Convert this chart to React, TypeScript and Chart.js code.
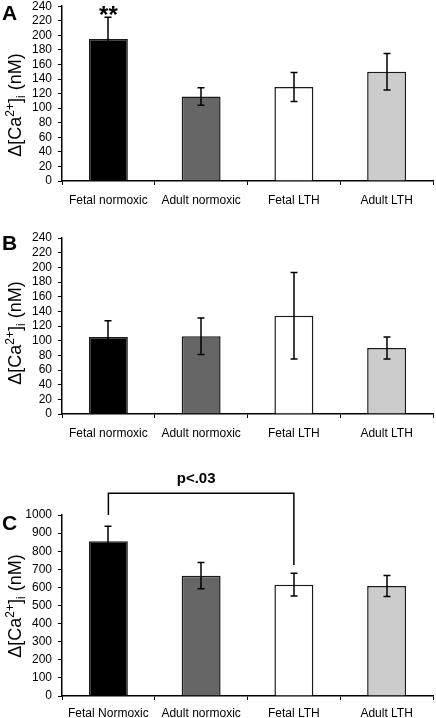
import React, { useEffect, useRef } from 'react';
import { Chart, registerables } from 'chart.js';

Chart.register(...registerables);

// ---------- data ----------
const categoriesAB = ['Fetal normoxic', 'Adult normoxic', 'Fetal LTH', 'Adult LTH'];
const categoriesC = ['Fetal Normoxic', 'Adult normoxic', 'Fetal LTH', 'Adult LTH'];

const meanA = [195, 116, 129, 150];
const semA = [30, 12, 20, 25];

const meanB = [105, 106, 134, 90];
const semB = [22, 25, 59, 15];

const meanC = [855, 665, 615, 608];
const semC = [83, 73, 63, 58];

const yMaxAB = 240;
const yStepAB = 20;
const yMaxC = 1000;
const yStepC = 100;

const barColors = ['#000000', '#666666', '#ffffff', '#cccccc'];

const starsA = { index: 0, text: '**' };
const bracketC = { from: 0, to: 2, top: 1120, leftEnd: 1000, rightEnd: 724, label: 'p<.03' };

const FONT = '"Liberation Sans", Arial, Helvetica, sans-serif';

// ---------- plugin ----------
const decorPlugin = {
  id: 'panelDecor',
  afterDatasetsDraw(chart: any, _args: any, opts: any) {
    const ctx = chart.ctx as CanvasRenderingContext2D;
    const xs = chart.scales.x;
    const ys = chart.scales.y;
    const meta = chart.getDatasetMeta(0);
    const means: number[] = chart.data.datasets[0].data;
    ctx.save();
    // error bars
    ctx.strokeStyle = '#000';
    ctx.lineWidth = 1.5;
    (opts.errors as number[]).forEach((e, i) => {
      const bar = meta.data[i];
      const v = means[i];
      const px = Math.round(bar.x);
      const top = ys.getPixelForValue(v + e);
      const bot = ys.getPixelForValue(v - e);
      ctx.beginPath();
      ctx.moveTo(px, top);
      ctx.lineTo(px, bot);
      ctx.moveTo(px - 3.5, top);
      ctx.lineTo(px + 3.5, top);
      ctx.moveTo(px - 3.5, bot);
      ctx.lineTo(px + 3.5, bot);
      ctx.stroke();
    });
    // stars
    if (opts.stars) {
      const i = opts.stars.index;
      const px = meta.data[i].x;
      const top = ys.getPixelForValue(means[i] + opts.errors[i]);
      ctx.fillStyle = '#000';
      ctx.font = `bold 24px ${FONT}`;
      ctx.textAlign = 'center';
      ctx.textBaseline = 'alphabetic';
      ctx.fillText(opts.stars.text, px, top + 6);
    }
    // bracket
    if (opts.bracket) {
      const b = opts.bracket;
      const x1 = xs.getPixelForValue(b.from);
      const x2 = xs.getPixelForValue(b.to);
      const yt = ys.getPixelForValue(b.top);
      const y1 = ys.getPixelForValue(b.leftEnd);
      const y2 = ys.getPixelForValue(b.rightEnd);
      ctx.strokeStyle = '#000';
      ctx.lineWidth = 1.5;
      ctx.beginPath();
      ctx.moveTo(x1, y1);
      ctx.lineTo(x1, yt);
      ctx.lineTo(x2, yt);
      ctx.lineTo(x2, y2);
      ctx.stroke();
      ctx.fillStyle = '#000';
      ctx.font = `bold 15px ${FONT}`;
      ctx.textAlign = 'center';
      ctx.textBaseline = 'alphabetic';
      ctx.fillText(b.label, (x1 + x2) / 2 - 5, yt - 10);
    }
    // panel letter
    ctx.fillStyle = '#000';
    ctx.font = `bold 21px ${FONT}`;
    ctx.textAlign = 'left';
    ctx.textBaseline = 'alphabetic';
    ctx.fillText(opts.letter, 2, opts.letterY);
    // y title  Δ[Ca2+]i (nM)
    const big = 18;
    const small = 12;
    const parts = [
      { t: 'Δ[Ca', size: big, dy: 0 },
      { t: '2+', size: small, dy: -7 },
      { t: ']', size: big, dy: 0 },
      { t: 'i', size: small, dy: 4 },
      { t: ' (nM)', size: big, dy: 0 },
    ];
    let total = 0;
    parts.forEach((p) => {
      ctx.font = `${p.size}px ${FONT}`;
      total += ctx.measureText(p.t).width;
    });
    ctx.translate(21, opts.titleY);
    ctx.rotate(-Math.PI / 2);
    let cx = -total / 2;
    parts.forEach((p) => {
      ctx.font = `${p.size}px ${FONT}`;
      ctx.fillText(p.t, cx, p.dy);
      cx += ctx.measureText(p.t).width;
    });
    ctx.restore();
  },
};

interface PanelSpec {
  labels: string[];
  means: number[];
  errors: number[];
  max: number;
  step: number;
  padTop: number;
  xHeight: number;
  xPad: number;
  letter: string;
  letterY: number;
  titleY: number;
  stars?: any;
  bracket?: any;
}

function makeConfig(p: PanelSpec): any {
  const tickFont = { family: FONT, size: 12 };
  return {
    type: 'bar',
    data: {
      labels: p.labels,
      datasets: [
        {
          data: p.means,
          backgroundColor: barColors,
          borderColor: '#1a1a1a',
          borderWidth: 1.5,
          barPercentage: 0.42,
          categoryPercentage: 1,
        },
      ],
    },
    options: {
      responsive: false,
      animation: false,
      devicePixelRatio: 1,
      layout: { padding: { top: p.padTop, right: 3, left: 0, bottom: 0 } },
      plugins: {
        legend: { display: false },
        tooltip: { enabled: false },
        panelDecor: {
          errors: p.errors,
          letter: p.letter,
          letterY: p.letterY,
          titleY: p.titleY,
          stars: p.stars,
          bracket: p.bracket,
        },
      },
      scales: {
        x: {
          grid: {
            display: true,
            drawOnChartArea: false,
            drawTicks: true,
            tickLength: 4,
            color: '#000',
            lineWidth: 1,
            offset: true,
          },
          border: { display: true, color: '#000', width: 1.5 },
          ticks: { color: '#000', font: tickFont, padding: p.xPad, maxRotation: 0, autoSkip: false },
          afterFit: (s: any) => {
            s.height = p.xHeight;
          },
        },
        y: {
          min: 0,
          max: p.max,
          ticks: {
            stepSize: p.step,
            color: '#000',
            font: tickFont,
            padding: 6,
            autoSkip: false,
            callback: (v: any) => String(v),
          },
          grid: { display: true, drawOnChartArea: false, tickLength: 4, color: '#000', lineWidth: 1 },
          border: { display: true, color: '#000', width: 1.5 },
          afterFit: (s: any) => {
            s.width = 62;
          },
        },
      },
    },
    plugins: [decorPlugin],
  };
}

function Panel({ spec, top, height }: { spec: PanelSpec; top: number; height: number }) {
  const ref = useRef<HTMLCanvasElement>(null);
  useEffect(() => {
    if (!ref.current) return;
    const chart = new Chart(ref.current, makeConfig(spec));
    return () => chart.destroy();
  }, []);
  return (
    <canvas
      ref={ref}
      width={436}
      height={height}
      style={{ position: 'absolute', left: 0, top, width: 436, height }}
    />
  );
}

export default function App() {
  const specA: PanelSpec = {
    labels: categoriesAB, means: meanA, errors: semA, max: yMaxAB, step: yStepAB,
    padTop: 12, xHeight: 34, xPad: 8, letter: 'A', letterY: 27, titleY: 112, stars: starsA,
  };
  const specB: PanelSpec = {
    labels: categoriesAB, means: meanB, errors: semB, max: yMaxAB, step: yStepAB,
    padTop: 18, xHeight: 36, xPad: 8, letter: 'B', letterY: 30, titleY: 113,
  };
  const specC: PanelSpec = {
    labels: categoriesC, means: meanC, errors: semC, max: yMaxC, step: yStepC,
    padTop: 60, xHeight: 22, xPad: 6, letter: 'C', letterY: 75, titleY: 151, bracket: bracketC,
  };
  return (
    <div style={{ position: 'absolute', left: 0, top: 0, width: 436, height: 718, background: '#fff', overflow: 'hidden' }}>
      <Panel spec={specA} top={-7} height={222} />
      <Panel spec={specB} top={220} height={230} />
      <Panel spec={specC} top={455} height={263} />
    </div>
  );
}
